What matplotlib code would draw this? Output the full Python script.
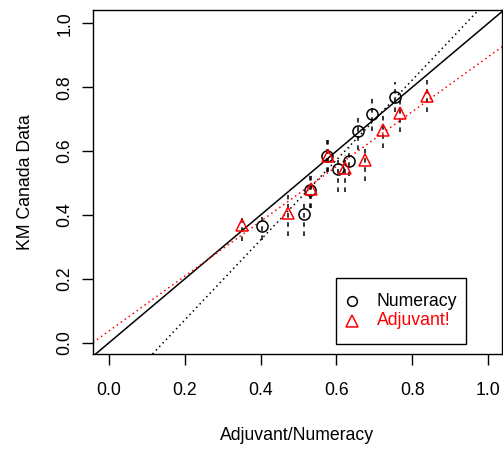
import matplotlib
matplotlib.use("Agg")
import matplotlib.pyplot as plt
from matplotlib.patches import Rectangle

plt.rcParams['font.family'] = ['Liberation Sans', 'DejaVu Sans']

# Numeracy (black circles)
num_x = [0.404, 0.515, 0.531, 0.575, 0.605, 0.634, 0.656, 0.695, 0.754]
num_y = [0.366, 0.403, 0.477, 0.585, 0.543, 0.568, 0.663, 0.716, 0.770]
num_lo = [0.321, 0.333, 0.422, 0.534, 0.472, 0.522, 0.603, 0.663, 0.722]
num_hi = [0.397, 0.446, 0.531, 0.635, 0.571, 0.610, 0.713, 0.766, 0.816]

# Adjuvant! (red triangles)
adj_x = [0.350, 0.472, 0.533, 0.578, 0.623, 0.676, 0.723, 0.768, 0.840]
adj_y = [0.368, 0.405, 0.483, 0.585, 0.546, 0.572, 0.666, 0.718, 0.772]
adj_lo = [0.319, 0.334, 0.422, 0.534, 0.472, 0.506, 0.610, 0.660, 0.722]
adj_hi = [0.400, 0.462, 0.534, 0.635, 0.588, 0.619, 0.716, 0.766, 0.822]

# fitted lines (intercept, slope)
identity_line = (0.0, 1.0)
num_fit = (-0.179, 1.252)
adj_fit = (0.037, 0.858)

ticks = [0.0, 0.2, 0.4, 0.6, 0.8, 1.0]
tick_labels = ["0.0", "0.2", "0.4", "0.6", "0.8", "1.0"]
legend_labels = ["Numeracy", "Adjuvant!"]

FS = 12.7

fig = plt.figure(figsize=(5.03, 4.5), dpi=100)
ax = fig.add_axes([93 / 503, (450 - 354) / 450, 409 / 503, 344 / 450])
ax.set_xlim(-0.042, 1.037)
ax.set_ylim(-0.035, 1.042)

# error bars
ax.vlines(num_x, num_lo, num_hi, colors='black', linestyles=(0, (3, 3)), linewidth=1.1, zorder=2)
ax.vlines(adj_x, adj_lo, adj_hi, colors='black', linestyles=(0, (3, 3)), linewidth=1.1, zorder=2)

# lines
ax.axline((0, identity_line[0]), slope=identity_line[1], color='black', linewidth=1.1, zorder=1)
ax.axline((0, num_fit[0]), slope=num_fit[1], color='black', linestyle=(0, (1, 2.2)), linewidth=1.1, zorder=1)
ax.axline((0, adj_fit[0]), slope=adj_fit[1], color='red', linestyle=(0, (1, 2.2)), linewidth=1.1, zorder=1)

# points
ax.plot(num_x, num_y, linestyle='none', marker='o', markersize=8, markerfacecolor='none',
        markeredgecolor='black', markeredgewidth=1.1, zorder=3)
ax.plot(adj_x, adj_y, linestyle='none', marker='^', markersize=9, markerfacecolor='none',
        markeredgecolor='red', markeredgewidth=1.1, zorder=3)

ax.set_xticks(ticks)
ax.set_xticklabels(tick_labels)
ax.set_yticks(ticks)
ax.set_yticklabels(tick_labels, rotation=90, va='center')
ax.tick_params(axis='both', direction='out', length=8, width=1, labelsize=FS, pad=6)
ax.tick_params(axis='x', pad=12)
for s in ax.spines.values():
    s.set_linewidth(1)

ax.set_xlabel("Adjuvant/Numeracy", fontsize=FS, labelpad=20)
ax.set_ylabel("KM Canada Data", fontsize=FS, labelpad=16)

# legend drawn R-style in axes coordinates
ax.add_patch(Rectangle((0.594, 0.029), 0.317, 0.192, transform=ax.transAxes,
                       facecolor='white', edgecolor='black', linewidth=1, zorder=5))
ax.plot([0.6325], [0.154], transform=ax.transAxes, linestyle='none', marker='o', markersize=7,
        markerfacecolor='none', markeredgecolor='black', markeredgewidth=1.1, zorder=6, clip_on=False)
ax.plot([0.6325], [0.096], transform=ax.transAxes, linestyle='none', marker='^', markersize=8,
        markerfacecolor='none', markeredgecolor='red', markeredgewidth=1.1, zorder=6, clip_on=False)
ax.text(0.694, 0.154, legend_labels[0], transform=ax.transAxes, fontsize=FS, color='black',
        va='center', ha='left', zorder=6)
ax.text(0.694, 0.096, legend_labels[1], transform=ax.transAxes, fontsize=FS, color='red',
        va='center', ha='left', zorder=6)

fig.savefig("out.png", dpi=100)
